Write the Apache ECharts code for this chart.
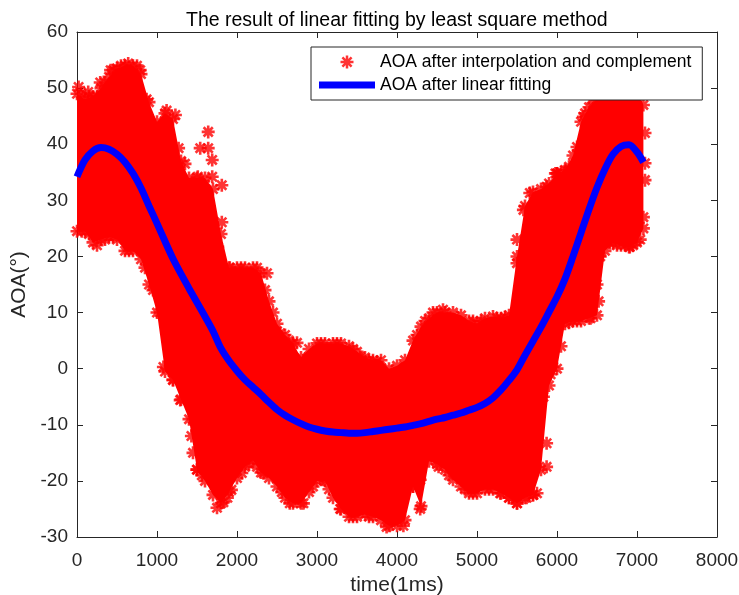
<!DOCTYPE html>
<html><head><meta charset="utf-8">
<script src="https://cdn.jsdelivr.net/npm/echarts@6/dist/echarts.min.js"></script>
<style>html,body{margin:0;padding:0;background:#fff}#c{width:739px;height:595px}</style>
</head><body><div id="c"></div>
<script>
// ---- data ----
const xTickValues = [0,1000,2000,3000,4000,5000,6000,7000,8000];
const yTickValues = [-30,-20,-10,0,10,20,30,40,50,60];

// scatter cloud: x columns, upper and lower edges of the red cloud (marker centres)
const cloudX = [0,100,200,300,400,500,600,700,800,900,1000,1100,1200,1300,1400,1500,1600,1700,1800,1900,
  2000,2100,2200,2300,2400,2500,2600,2700,2800,2900,3000,3100,3200,3300,3400,3500,3600,3700,3800,3900,
  4000,4100,4200,4300,4400,4500,4600,4700,4800,4900,5000,5100,5200,5300,5400,5500,5600,5700,5800,5900,
  6000,6100,6200,6300,6400,6500,6600,6700,6800,6900,7000,7080];
const cloudHigh = [49,48,48.5,50,52,53.5,54,54,52.5,47.5,44,45.5,44.5,37,34,34,34,32,24,18,
  18,18,18,17,12,8,6,4.5,2,3.5,4.5,4.5,4.5,4.5,4,3,2,1.5,1.5,0,
  0.5,1.5,5,7.5,9,10,10,10,9.5,8.5,8,9,9.3,9,9.5,20,29,31.5,32,33,
  34.8,35.4,38,44,46.6,48,50,50,50,50,50,47];
const cloudLow = [24.5,24.5,22.5,23,23.5,23,21,21,19.5,15,10,-0.5,-2,-5.5,-9,-18,-20,-22.5,-24,-22,
  -19.5,-17.5,-16.3,-18.5,-19.5,-21,-23,-24,-24,-22,-20,-20,-23,-25,-26.4,-26.4,-26,-26.4,-27,-28,
  -28,-27,-21,-24.5,-16.5,-17,-18,-19.8,-21,-22.2,-22.2,-21.5,-21.5,-22.2,-23,-24,-23,-22.5,-18,-3,
  0,8,8.5,8.5,9,9.5,21,22.4,22,21.7,22.5,25];
// isolated / edge markers
const cloudExtra = [[20,50.2],[140,49.3],[290,51],[410,50.2],[420,53.2],[450,53.2],[640,54.4],[790,53.2],
  [870,48],[1120,46],[1230,45.2],[1270,39.3],[1270,36],[1510,34.2],[1540,39.3],[1640,42.2],[1640,39.3],
  [1690,37.2],[1690,34.2],[1810,32.7],[1810,26.1],[1760,21.7],[1640,24],[950,14],[1040,10],[1080,0.3],
  [1200,-2],[1290,-5.6],[1450,-9],[1500,-11],[1450,-15],[1500,-18],[1750,-24.8],[1830,-23.8],[1930,-21.6],
  [2060,-18.6],[2330,-18.6],[2660,-24],[2830,-24],[3290,-25],[3870,-28.2],[4290,-25],[4290,-19.8],[4080,-28],
  [5500,-24],[5290,-22.2],[4950,-22.2],[5750,-22.2],[5870,-17.5],[5870,-13.3],[5750,-9.7],[5830,-5],
  [5950,0.3],[5950,3.3],[5540,11.3],[5580,14.6],[5500,18.8],[5500,23],[5580,28.3],[5660,31.3],[5870,32.4],
  [6000,34.8],[6160,35.4],[6250,39.5],[6330,44.9],[6450,47.3],[6500,15],[6520,12],[6540,20],[6660,22.4],
  [6910,21.7],[7040,23],[7080,27],[7100,33.6],[7100,36.6],[7100,42],[2450,10],[2540,6.3],[2750,4.6],
  [2830,1.5],[4450,10],[4575,10.5],[1910,18],[2375,17],[3540,2.1],[3750,1.2],[3950,-2],
  [1350,36.5],[1430,-12],[1560,-19],[1880,-23],[2150,-17],[2250,-17.5],[2560,-22],[2950,-21],[3080,-19.8],
  [3150,-21.5],[3450,-26.4],[3650,-26.4],[4200,-21],[4520,-17.5],[4650,-19],[4850,-21.5],[5150,-21.5],
  [5400,-23],[5620,-23],[5700,-22.5],[4150,-2],[4250,6],[4350,8.5],[4950,8.5],[5050,8.5],[5250,9],
  [5350,9.2],[2050,18],[2250,18],[2350,14],[2650,5],[3050,4.5],[3250,4.5],[3450,3.5],[3650,1.5],
  [550,54],[750,54],[350,51],[50,49],[150,48.5],[250,48.5],[60,24.5],[150,24],[250,22],[350,23],
  [450,23.5],[650,21],[850,18],[5980,34.8],[6050,35],[6150,36],[6350,45.5],[6750,22],[6850,22],[6950,22],
  [6420,9],[6250,8.5],[6150,8.2],[6050,4],[5920,-1]];

// fitted curve
const fitX = [0,100,200,300,400,500,600,700,800,900,1000,1100,1200,1300,1400,1500,1600,1700,1800,1900,
  2000,2100,2200,2300,2400,2500,2600,2700,2800,2900,3000,3100,3200,3300,3400,3500,3600,3700,3800,3900,
  4000,4100,4200,4300,4400,4500,4600,4700,4800,4900,5000,5100,5200,5300,5400,5500,5600,5700,5800,5900,
  6000,6100,6200,6300,6400,6500,6600,6700,6800,6900,7000,7080];
const fitY = [34.2,37.2,38.8,39.4,39.1,38.2,36.8,34.8,32.2,29.0,25.9,22.7,19.6,16.9,14.3,11.8,9.3,6.7,3.6,1.4,
  -0.4,-2.0,-3.3,-4.6,-6.0,-7.3,-8.3,-9.1,-9.8,-10.4,-10.8,-11.1,-11.3,-11.4,-11.5,-11.5,-11.4,-11.2,-11.0,-10.8,
  -10.6,-10.4,-10.1,-9.8,-9.4,-9.0,-8.7,-8.3,-7.9,-7.4,-6.9,-6.2,-5.2,-3.8,-2.1,-0.2,2.4,4.9,7.4,10.1,
  12.8,16.0,20.0,24.2,28.4,32.3,35.6,38.2,39.6,39.9,38.6,36.8];

const scatterName = 'AOA after interpolation and complement';
const lineName = 'AOA after linear fitting';
const titleText = 'The result of linear fitting by least square method';

// ---- build chart ----
const FONT = '"Liberation Sans", Arial, Helvetica, sans-serif';
const AXIS_COLOR = '#262626';
const ASTERISK = 'path://M0,-6L0,6M-6,0L6,0M-4.24,-4.24L4.24,4.24M-4.24,4.24L4.24,-4.24';

const scatterData = [];
cloudX.forEach((x, i) => { scatterData.push([x, cloudHigh[i]]); scatterData.push([x, cloudLow[i]]); });
cloudExtra.forEach(p => scatterData.push(p));

function axisX(pos, showLabel) {
  return {
    type: 'value', min: 0, max: 8000, interval: 1000, position: pos,
    axisLine: { show: true, onZero: false, lineStyle: { color: AXIS_COLOR, width: 1 } },
    axisTick: { show: true, inside: true, length: 6, lineStyle: { color: AXIS_COLOR } },
    axisLabel: { show: showLabel, fontSize: 19, color: AXIS_COLOR, margin: 14, fontFamily: FONT,
      formatter: v => String(v) },
    splitLine: { show: false },
    name: showLabel ? 'time(1ms)' : '', nameLocation: 'middle', nameGap: 33,
    nameTextStyle: { fontSize: 21, color: AXIS_COLOR, fontFamily: FONT }
  };
}
function axisY(pos, showLabel) {
  return {
    type: 'value', min: -30, max: 60, interval: 10, position: pos,
    axisLine: { show: true, onZero: false, lineStyle: { color: AXIS_COLOR, width: 1 } },
    axisTick: { show: true, inside: true, length: 6, lineStyle: { color: AXIS_COLOR } },
    axisLabel: { show: showLabel, fontSize: 19, color: AXIS_COLOR, margin: 9, fontFamily: FONT,
      formatter: v => String(v) },
    splitLine: { show: false },
    name: showLabel ? 'AOA(°)' : '', nameLocation: 'middle', nameGap: 37,
    nameTextStyle: { fontSize: 21, color: AXIS_COLOR, fontFamily: FONT }
  };
}

const chart = echarts.init(document.getElementById('c'), null, { renderer: 'canvas' });
chart.setOption({
  animation: false,
  backgroundColor: '#fff',
  title: {
    text: titleText, left: 186, top: 11, padding: 0,
    textStyle: { fontSize: 19.5, fontWeight: 'normal', color: '#000', fontFamily: FONT }
  },
  grid: { left: 77, right: 22, top: 32, bottom: 58, containLabel: false, outerBoundsMode: 'none' },
  xAxis: [axisX('bottom', true), axisX('top', false)],
  yAxis: [axisY('left', true), axisY('right', false)],
  legend: {
    orient: 'vertical', left: 311, top: 47, padding: [6, 11, 6, 8], itemGap: 5,
    itemWidth: 56, itemHeight: 13, backgroundColor: '#fff', borderColor: AXIS_COLOR, borderWidth: 1,
    borderRadius: 0, selectedMode: false, z: 20,
    textStyle: { fontSize: 17.5, color: '#000', lineHeight: 18, fontFamily: FONT },
    data: [
      { name: scatterName, icon: ASTERISK, itemStyle: { color: '#ff0000', borderColor: '#ff0000', borderWidth: 2.5 } },
      { name: lineName, icon: 'path://M0,0L56,0L56,7L0,7Z', itemStyle: { color: '#0000ff', borderWidth: 0 } }
    ]
  },
  series: [
    {
      name: 'cloud-body', type: 'custom', silent: true, clip: false, z: 1,
      xAxisIndex: 0, yAxisIndex: 0,
      data: [[0, 0]],
      renderItem: function (params, api) {
        const pts = [];
        for (let i = 0; i < cloudX.length; i++) pts.push(api.coord([cloudX[i], cloudHigh[i]]));
        for (let i = cloudX.length - 1; i >= 0; i--) pts.push(api.coord([cloudX[i], cloudLow[i]]));
        return { type: 'polygon', shape: { points: pts }, style: { fill: '#ff0000' } };
      }
    },
    {
      name: scatterName, type: 'scatter', xAxisIndex: 0, yAxisIndex: 0, z: 2,
      symbol: ASTERISK, symbolSize: 13, clip: false,
      itemStyle: { color: '#ff0000', borderColor: '#ff0000', borderWidth: 2.6 },
      data: scatterData
    },
    {
      name: lineName, type: 'line', xAxisIndex: 0, yAxisIndex: 0, z: 3,
      data: fitX.map((x, i) => [x, fitY[i]]),
      showSymbol: false, symbol: 'none', smooth: 0.3,
      lineStyle: { color: '#0000ff', width: 7, cap: 'butt' },
      itemStyle: { color: '#0000ff' }
    }
  ]
});
</script>
</body></html>
